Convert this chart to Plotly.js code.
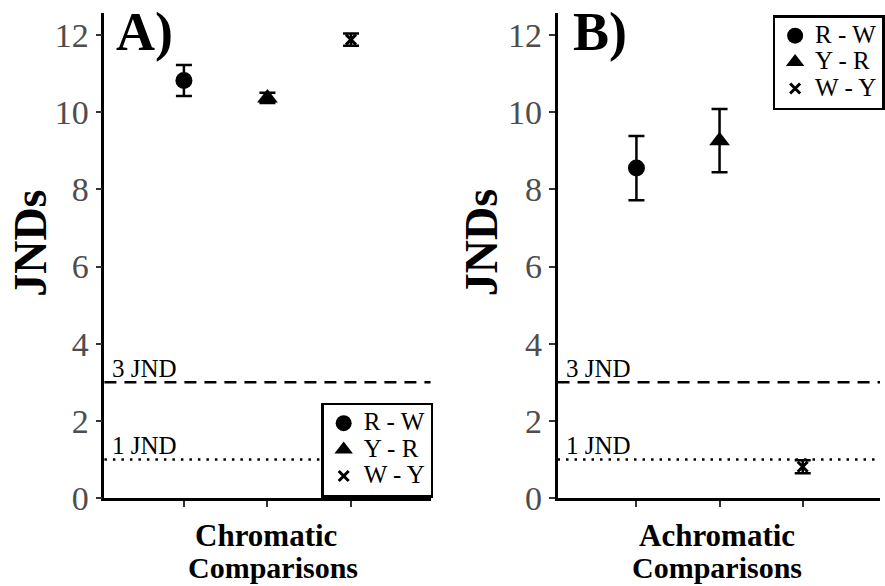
<!DOCTYPE html>
<html>
<head>
<meta charset="utf-8">
<script src="https://cdn.plot.ly/plotly-3.0.1.min.js"></script>
<style>html,body{margin:0;padding:0;background:#fff;}#chart{width:885px;height:586px;}</style>
</head>
<body>
<div id="chart"></div>
<script>
// ---- data ----
var comparisons = ['R - W', 'Y - R', 'W - Y'];
var chromaticMean = [10.82, 10.37, 11.88];
var chromaticErr = [0.40, 0.13, 0.16];
var achromaticMean = [8.55, 9.26, 0.81];
var achromaticErr = [0.83, 0.82, 0.17];
var thresholds = [3, 1];
var thresholdLabels = ['3 JND', '1 JND'];
var yTicks = [0, 2, 4, 6, 8, 10, 12];

// ---- styles ----
var SERIF = 'Liberation Serif, Times New Roman, serif';
var symbols = ['circle', 'triangle-up', 'x-thin-open'];
var sizes = [17, 18, 10];

var traces = [];
function addPanel(means, errs, xa, ya, legendId) {
  for (var i = 0; i < comparisons.length; i++) {
    traces.push({
      type: 'scatter', mode: 'markers',
      x: [comparisons[i]], y: [means[i]],
      name: '<span style="font-size:25px">' + comparisons[i] + '</span>',
      xaxis: xa, yaxis: ya, legend: legendId,
      marker: {symbol: symbols[i], size: sizes[i], color: '#000',
               line: {color: '#000', width: i === 2 ? 3 : 0}},
      error_y: {type: 'data', array: [errs[i]], visible: true,
                color: '#000', thickness: 2.5, width: 8},
      cliponaxis: false,
      hoverinfo: 'x+y'
    });
  }
}
addPanel(chromaticMean, chromaticErr, 'x', 'y', 'legend');
addPanel(achromaticMean, achromaticErr, 'x2', 'y2', 'legend2');

var H = 586, W = 885;
function py(px) { return (H - px) / H; }
function pxX(px) { return px / W; }

var yaxisBase = {
  range: [0, 12.57], tickvals: yTicks, ticks: 'outside', ticklen: 6, tickwidth: 2,
  tickcolor: '#333', showline: true, linecolor: '#000', linewidth: 2.5,
  showgrid: false, zeroline: false,
  tickfont: {family: SERIF, size: 34, color: '#4d4d4d'},
  domain: [py(498), py(13)], fixedrange: true
};
var xaxisBase = {
  type: 'category', categoryorder: 'array', categoryarray: comparisons,
  ticks: 'outside', ticklen: 6, tickwidth: 2, tickcolor: '#333',
  showticklabels: false, showline: true, linecolor: '#000', linewidth: 2.5,
  showgrid: false, zeroline: false, fixedrange: true
};

var shapes = [];
var annotations = [];
var dashes = ['12px,8px', '2.5px,6px'];
[['x', 'y'], ['x2', 'y2']].forEach(function (ax) {
  for (var k = 0; k < thresholds.length; k++) {
    shapes.push({type: 'line', xref: ax[0] + ' domain', yref: ax[1],
      x0: 0, x1: 1, y0: thresholds[k], y1: thresholds[k], layer: 'below',
      line: {color: '#000', width: 2.5, dash: dashes[k]}});
    annotations.push({xref: ax[0] + ' domain', yref: ax[1], x: 0, y: thresholds[k],
      xanchor: 'left', yanchor: 'middle', xshift: 6, yshift: 14, showarrow: false,
      text: thresholdLabels[k], font: {family: SERIF, size: 25, color: '#000'}});
  }
});

function txt(text, xpx, ypx, size, opts) {
  var a = {xref: 'paper', yref: 'paper', x: pxX(xpx), y: py(ypx), text: text,
    showarrow: false, xanchor: 'center', yanchor: 'middle',
    font: {family: SERIF, size: size, color: '#000'}};
  for (var k in (opts || {})) a[k] = opts[k];
  return a;
}
annotations.push(txt('<b>A)</b>', 115, 32, 54, {xanchor: 'left'}));
annotations.push(txt('<b>B)</b>', 574, 32, 54, {xanchor: 'left'}));
annotations.push(txt('<b>JNDs</b>', 31, 243, 46, {textangle: -90}));
annotations.push(txt('<b>JNDs</b>', 485, 243, 46, {textangle: -90}));
annotations.push(txt('<b>Chromatic</b>', 268, 535, 31));
annotations.push(txt('<b>Comparisons</b>', 275, 567, 30));
annotations.push(txt('<b>Achromatic</b>', 721, 535, 31));
annotations.push(txt('<b>Comparisons</b>', 721, 567, 30));

var legendBase = {
  bgcolor: '#fff', bordercolor: '#000', borderwidth: 2.5,
  font: {family: SERIF, size: 18, color: '#000'},
  xanchor: 'left', yanchor: 'middle', tracegroupgap: 0, itemclick: false, itemdoubleclick: false
};
var legend1 = Object.assign({}, legendBase, {x: pxX(323), y: py(450)});
var legend2 = Object.assign({}, legendBase, {x: pxX(777), y: py(62.5)});

var layout = {
  width: W, height: H,
  margin: {l: 0, r: 0, t: 0, b: 0},
  paper_bgcolor: '#fff', plot_bgcolor: '#fff',
  showlegend: true,
  legend: legend1, legend2: legend2,
  xaxis: Object.assign({}, xaxisBase, {domain: [pxX(105), pxX(433)], range: [-0.952, 2.953], anchor: 'y'}),
  yaxis: Object.assign({}, yaxisBase, {anchor: 'x'}),
  xaxis2: Object.assign({}, xaxisBase, {domain: [pxX(560.7), 1], range: [-0.949, 2.93], anchor: 'y2'}),
  yaxis2: Object.assign({}, yaxisBase, {anchor: 'x2'}),
  shapes: shapes, annotations: annotations
};

Plotly.newPlot('chart', traces, layout, {displayModeBar: false});
</script>
</body>
</html>
